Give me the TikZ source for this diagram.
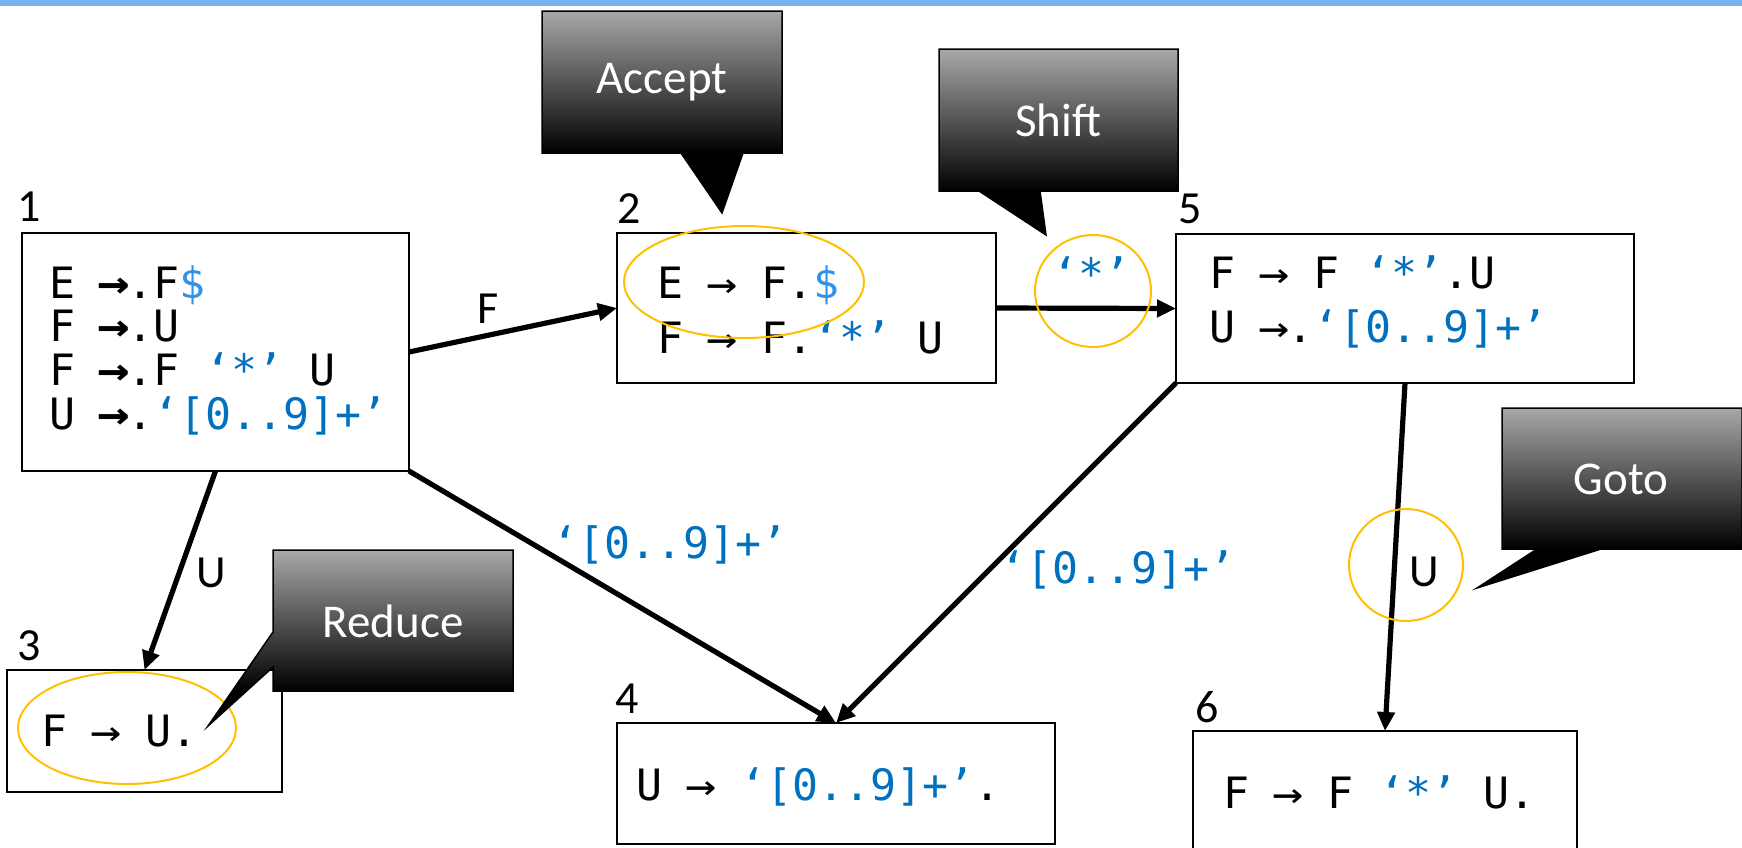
\documentclass[tikz,border=0pt]{standalone}
\usepackage{fontspec}
\usepackage{graphicx}
\setmainfont{Carlito}
\newfontfamily\monof{DejaVu Sans Mono}
\usetikzlibrary{arrows.meta}
\definecolor{barblue}{RGB}{117,178,238}
\definecolor{codeblue}{RGB}{0,112,192}
\definecolor{dollarblue}{RGB}{46,145,234}
\definecolor{hlorange}{RGB}{255,192,0}
\definecolor{cgtop}{RGB}{168,168,168}
\definecolor{cgmid}{RGB}{78,78,78}
\tikzset{
  box/.style={draw, line width=2pt, rectangle, inner sep=0pt, outer sep=0pt, anchor=north west},
  lbl/.style={font=\fontsize{46}{46}\selectfont, inner sep=0pt},
  code/.style={font=\monof\fontsize{43.2}{44}\selectfont, inner sep=0pt, anchor=base west},
  conn/.style={line width=5.2pt, -{Triangle[length=19pt,width=17pt]}},
  hl/.style={draw=hlorange, line width=2pt},
  ctext/.style={text=white, font=\fontsize{47}{47}\selectfont, inner sep=0pt},
  cedge/.style={draw=black, line width=1.5pt, line join=miter},
}
\newcommand{\bl}[1]{\textcolor{codeblue}{#1}}
\newcommand{\arw}{\makebox[0.602em][c]{\scalebox{1.2}[1]{→}}}
\newcommand{\barw}{\makebox[0.602em][c]{\scalebox{1.25}[1.05]{\bfseries →}}}
\begin{document}
\begin{tikzpicture}[x=1pt,y=-1pt]
\useasboundingbox (0,0) rectangle (1742,847);
\clip (0,0) rectangle (1742,847);
\fill[white] (0,0) rectangle (1742,847);
% top bar
\fill[barblue] (0,0) rectangle (1742,6);

% boxes
\node[box, minimum width=387pt, minimum height=238pt] (b1) at (22,233) {};
\node[box, minimum width=379pt, minimum height=150pt] (b2) at (617,233) {};
\node[box, minimum width=458pt, minimum height=149pt] (b5) at (1176,234) {};
\node[box, minimum width=275pt, minimum height=122pt] (b3) at (7,670) {};
\node[box, minimum width=438pt, minimum height=121pt] (b4) at (617,723) {};
\node[box, minimum width=384pt, minimum height=150pt] (b6) at (1193,731) {};

% state numbers
\node[lbl, anchor=base west] (n1) at (17,221) {1};
\node[lbl, anchor=base west] (n2) at (617,223) {2};
\node[lbl, anchor=base west] (n5) at (1178,223) {5};
\node[lbl, anchor=base west] (n3) at (17,660) {3};
\node[lbl, anchor=base west] (n4) at (615,713) {4};
\node[lbl, anchor=base west] (n6) at (1195,722) {6};

% box texts
\node[code] (t1a) at (49,298) {E \barw.F\textcolor{dollarblue}{\$}};
\node[code] (t1b) at (49,341) {F \barw.U};
\node[code] (t1c) at (49,385) {F \barw.F \bl{‘*’} U};
\node[code] (t1d) at (49,429) {U \barw.\bl{‘[0..9]+’}};
\node[code] (t2a) at (657,298) {E \arw{} F.\textcolor{dollarblue}{\$}};
\node[code] (t2b) at (657,353) {F \arw{} F.\bl{‘*’} U};
\node[code] (t5a) at (1209,288) {F \arw{} F \bl{‘*’}.U};
\node[code] (t5b) at (1209,342) {U \arw.\bl{‘[0..9]+’}};
\node[code] (t3a) at (41,746) {F \arw{} U.};
\node[code] (t4a) at (636,800) {U \arw{} \bl{‘[0..9]+’}.};
\node[code] (t6a) at (1223,808) {F \arw{} F \bl{‘*’} U.};

% connectors
\draw[conn] (b1.east) -- (b2.west);
\draw[conn] (b2.east) -- (b5.west);
\draw[conn] (b1.south) -- (b3.north);
\draw[conn] (b1.south east) -- (b4.north);
\draw[conn] (b5.south west) -- (b4.north);
\draw[conn] (b5.south) -- (b6.north);

% connector labels
\node[lbl] (lF) at (488,309) {F};
\node[code, anchor=base] (lstar) at (1091,289) {\bl{‘*’}};
\node[lbl] (lU) at (211,573) {U};
\node[code, anchor=base] (lnum1) at (670,558) {\bl{‘[0..9]+’}};
\node[code, anchor=base] (lnum2) at (1118,583) {\bl{‘[0..9]+’}};
\node[lbl] (lU2) at (1424,572) {U};

% highlights
\draw[hl] (744,282) ellipse [x radius=120pt, y radius=56pt];
\draw[hl] (1093,291) ellipse [x radius=58pt, y radius=56pt];
\draw[hl] (1406,565) ellipse [x radius=57pt, y radius=56pt];
\draw[hl] (127,728) ellipse [x radius=109pt, y radius=56pt];

% callout: Accept
\begin{scope}
\clip (542,11) -- (782,11) -- (782,153) -- (743,153) -- (722,213) -- (681,153) -- (542,153) -- cycle;
\shade[top color=cgtop, middle color=cgmid, bottom color=black] (542,11) rectangle (782,153);
\fill[black] (542,152) rectangle (782,216);
\end{scope}
\draw[cedge] (542,11) -- (782,11) -- (782,153) -- (743,153) -- (722,213) -- (681,153) -- (542,153) -- cycle;
\node[ctext] (cacc) at (662,82) {Accept};

% callout: Shift
\begin{scope}
\clip (939,49) -- (1178,49) -- (1178,191) -- (1040,191) -- (1046,235) -- (979,191) -- (939,191) -- cycle;
\shade[top color=cgtop, middle color=cgmid, bottom color=black] (939,49) rectangle (1178,191);
\fill[black] (939,190) rectangle (1178,238);
\end{scope}
\draw[cedge] (939,49) -- (1178,49) -- (1178,191) -- (1040,191) -- (1046,235) -- (979,191) -- (939,191) -- cycle;
\node[ctext] (cshift) at (1058,120) {Shift};

% callout: Goto
\begin{scope}
\clip (1502,408) -- (1742,408) -- (1742,549) -- (1601,549) -- (1477,588) -- (1537,549) -- (1502,549) -- cycle;
\shade[top color=cgtop, middle color=cgmid, bottom color=black] (1502,408) rectangle (1742,549);
\fill[black] (1470,548) rectangle (1742,592);
\end{scope}
\draw[cedge] (1502,408) -- (1742,408) -- (1742,549) -- (1601,549) -- (1477,588) -- (1537,549) -- (1502,549) -- cycle;
\node[ctext] (cgoto) at (1621,479) {Goto};

% callout: Reduce
\begin{scope}
\clip (273,550) -- (513,550) -- (513,691) -- (273,691) -- (273,667) -- (208,726) -- (273,632) -- cycle;
\shade[top color=cgtop, middle color=cgmid, bottom color=black] (200,550) rectangle (513,691);
\fill[black] (200,690) rectangle (513,730);
\end{scope}
\draw[cedge] (273,550) -- (513,550) -- (513,691) -- (273,691) -- (273,667) -- (208,726) -- (273,632) -- cycle;
\node[ctext] (cred) at (393,621) {Reduce};
\end{tikzpicture}
\end{document}
